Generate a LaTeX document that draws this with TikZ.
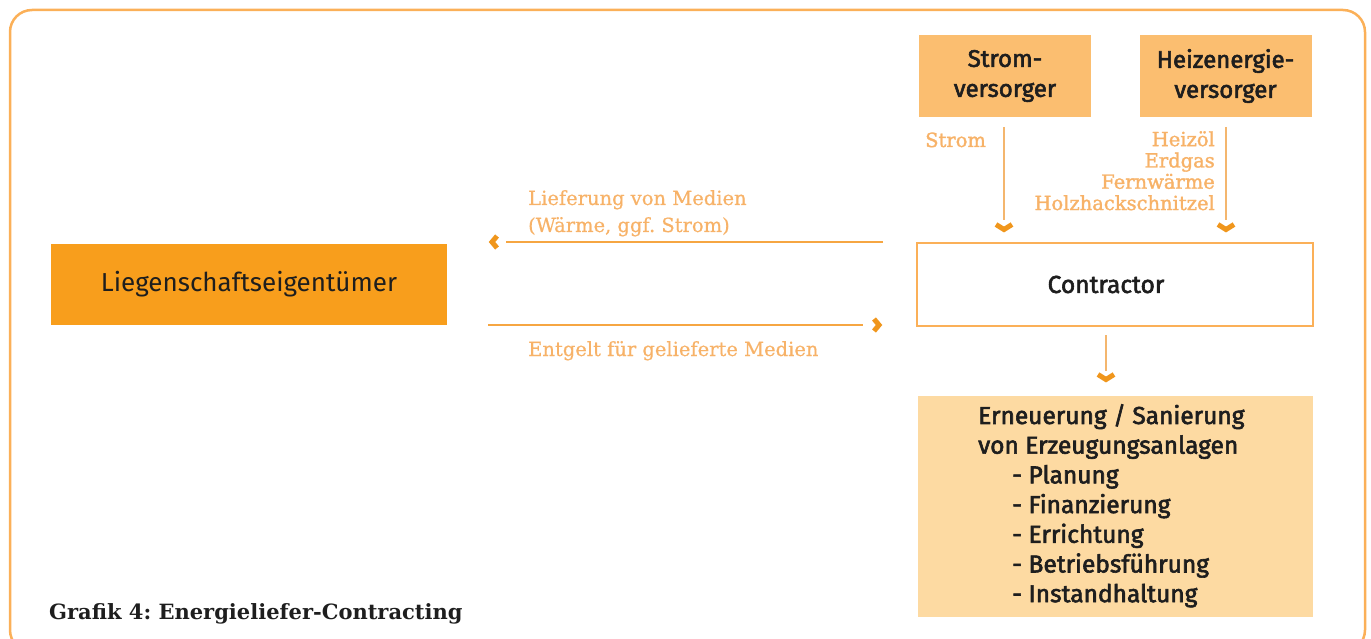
\documentclass[tikz,border=0pt]{standalone}
\usepackage{fontspec}
\setmainfont{DejaVu Serif}
\setsansfont{Fira Sans}
\newfontfamily\semib[FakeBold=2.4]{Fira Sans}
\newfontfamily\lblfont[FakeBold=1.6]{DejaVu Serif}
\newfontfamily\lblfontb[FakeBold=0.6]{DejaVu Serif}
\frenchspacing
\definecolor{darkor}{RGB}{248,158,28}
\definecolor{lightor}{RGB}{251,190,112}
\definecolor{paleor}{RGB}{253,218,162}
\definecolor{framec}{RGB}{251,176,88}
\definecolor{labelc}{RGB}{247,178,104}
\definecolor{linec}{RGB}{244,182,110}
\definecolor{hlinec}{RGB}{246,166,66}
\definecolor{chevc}{RGB}{240,150,28}
\definecolor{txtc}{RGB}{30,30,30}
\tikzset{
  vline/.style={draw=linec,line width=1.5pt},
  hline/.style={draw=hlinec,line width=2.5pt},
  chevd/.pic={\draw[chevc,line width=5pt,line join=miter] (-8,-3.5) -- (0,1.5) -- (8,-3.5);},
  chevl/.pic={\draw[chevc,line width=5pt,line join=miter] (3,-6) -- (-2,0) -- (3,6);},
  chevr/.pic={\draw[chevc,line width=5pt,line join=miter] (-3,-6) -- (2,0) -- (-3,6);},
  supbox/.style={fill=lightor,minimum width=172pt,minimum height=82pt,inner sep=0pt,align=center,font=\semib\fontsize{24}{30}\selectfont,text=txtc},
  lbl/.style={text=labelc,font=\lblfont\fontsize{19.5}{21.3}\selectfont,inner sep=0pt},
}
\begin{document}
\begin{tikzpicture}[x=1pt,y=-1pt]
\useasboundingbox (0,0) rectangle (1371,639);
\clip (0,0) rectangle (1371,639);
\draw[framec,line width=2.5pt,rounded corners=22pt] (10,10) rectangle (1365,652);

\node[fill=darkor,minimum width=396pt,minimum height=81pt,inner sep=0pt,font=\sffamily\fontsize{26}{30}\selectfont,text=txtc] (owner) at (249,284.5) {Liegenschaftseigent\"umer};

\node[supbox] (strom) at (1005,76) {Strom-\\versorger};
\node[supbox] (heiz) at (1225.5,76) {Heizenergie-\\versorger};

\node[draw=framec,line width=2pt,fill=white,minimum width=396pt,minimum height=83pt,inner sep=0pt] (contr) at (1115,284.5) {};
\node[inner sep=0pt,font=\semib\fontsize{24.5}{26}\selectfont,text=txtc] (contrtxt) at (1106,284.5) {Contractor};

\node[fill=paleor,minimum width=395pt,minimum height=221pt,inner sep=0pt,text=txtc] (work) at (1115.5,506.5) {};
\node[anchor=north west,inner sep=0pt,align=left,font=\semib\fontsize{24.5}{29.7}\selectfont,text=txtc] (worktxt) at (978,404) {Erneuerung / Sanierung\\von Erzeugungsanlagen\\\hspace*{34pt}- Planung\\\hspace*{34pt}- Finanzierung\\\hspace*{34pt}- Errichtung\\\hspace*{34pt}- Betriebsf\"uhrung\\\hspace*{34pt}- Instandhaltung};

% vertical arrows
\coordinate (s1) at (1004,127);
\coordinate (s2) at (1004,220);
\coordinate (h1) at (1226,127);
\coordinate (h2) at (1226,220);
\coordinate (c1) at (1106,335);
\coordinate (c2) at (1106,371);
\draw[vline] (s1) -- (s2);
\draw[vline] (h1) -- (h2);
\draw[vline] (c1) -- (c2);
\pic at (1004,228) {chevd};
\pic at (1226,228) {chevd};
\pic at (1106,378) {chevd};

% horizontal arrows
\coordinate (l1) at (883,242);
\coordinate (l2) at (506,242);
\coordinate (r1) at (488,325);
\coordinate (r2) at (863,325);
\draw[hline] (l1) -- (l2);
\draw[hline] (r1) -- (r2);
\pic at (494,242) {chevl};
\pic at (877,325) {chevr};

% labels
\node[lbl,anchor=base west] (lstrom) at (925,147) {Strom};
\node[lbl,anchor=north east,align=right] (lheiz) at (1215,131) {Heiz\"ol\\Erdgas\\Fernw\"arme\\Holzhackschnitzel};
\node[lbl,anchor=base west,align=left,font=\lblfontb\fontsize{19.5}{27}\selectfont] (lliefer) at (528,232) {Lieferung von Medien\\(W\"arme, ggf. Strom)};
\node[lbl,anchor=base west,font=\lblfontb\fontsize{19.5}{27}\selectfont] (lentg) at (528,356) {Entgelt f\"ur gelieferte Medien};

\node[anchor=base west,inner sep=0pt,font=\bfseries\fontsize{21}{23}\selectfont,text=txtc] (cap) at (49,619) {Grafik 4: Energieliefer-Contracting};
\end{tikzpicture}
\end{document}
